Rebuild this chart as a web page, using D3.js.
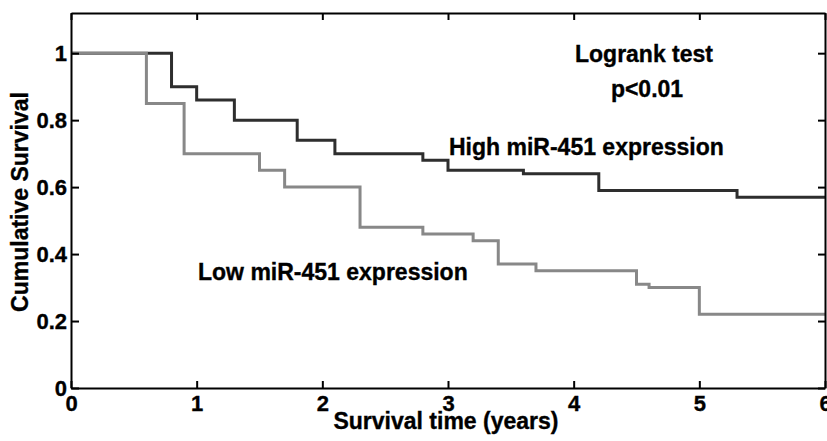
<!DOCTYPE html>
<html>
<head>
<meta charset="utf-8">
<script src="https://cdn.jsdelivr.net/npm/d3@7"></script>
<style>
  body { margin: 0; background: #fff; }
  text { font-family: "Liberation Sans", Arial, sans-serif; font-weight: bold; stroke: #000; stroke-width: 0.35px; }
</style>
</head>
<body>
<svg id="chart" width="827" height="441"></svg>
<script>
// Kaplan-Meier steps
const highTimes = [0, 0.8, 1.0, 1.3, 1.8, 2.1, 2.8, 3.0, 3.6, 4.2, 5.3, 6];
const highSurv  = [1, 0.9, 0.86, 0.8, 0.74, 0.70, 0.68, 0.65, 0.64, 0.59, 0.57, 0.57];
const lowTimes  = [0, 0.6, 0.9, 1.5, 1.7, 2.3, 2.8, 3.2, 3.4, 3.7, 4.5, 4.6, 5.0, 6];
const lowSurv   = [1, 0.85, 0.70, 0.65, 0.60, 0.48, 0.46, 0.44, 0.37, 0.35, 0.31, 0.30, 0.22, 0.22];
const xTicks = [0, 1, 2, 3, 4, 5, 6];
const yTicks = [0, 0.2, 0.4, 0.6, 0.8, 1];

const svg = d3.select("#chart");
const margin = { left: 71, right: 2, top: 13, bottom: 53 };
const W = 827, H = 441;

const x = d3.scaleLinear().domain([0, 6]).range([margin.left, W - margin.right]);
const y = d3.scaleLinear().domain([0, 1.12]).range([H - margin.bottom, margin.top]);

const line = d3.line()
  .x(d => x(d[0]))
  .y(d => y(d[1]))
  .curve(d3.curveStepAfter);

const high = highTimes.map((t, i) => [t, highSurv[i]]);
const low = lowTimes.map((t, i) => [t, lowSurv[i]]);

// curves (grey drawn over dark)
svg.append("path").datum(high)
  .attr("d", line).attr("fill", "none")
  .attr("stroke", "#2e2e2e").attr("stroke-width", 3);
svg.append("path").datum(low)
  .attr("d", line).attr("fill", "none")
  .attr("stroke", "#888").attr("stroke-width", 3);

const fmt = d3.format("~g");
const styleAxis = g => {
  g.selectAll(".domain").attr("stroke", "#000").attr("stroke-width", 2);
  g.selectAll(".tick line").attr("stroke", "#000").attr("stroke-width", 2);
  g.selectAll("text").attr("fill", "#000").style("font-size", "22px")
    .style("font-family", "'Liberation Sans', Arial, sans-serif").style("font-weight", "bold");
};

svg.append("g")
  .attr("transform", `translate(0,${y(0)})`)
  .call(d3.axisBottom(x).tickValues(xTicks).tickFormat(fmt).tickSize(-7).tickSizeOuter(0).tickPadding(7))
  .call(styleAxis);

svg.append("g")
  .attr("transform", `translate(${x(0)},0)`)
  .call(d3.axisLeft(y).tickValues(yTicks).tickFormat(fmt).tickSize(-8).tickSizeOuter(0).tickPadding(4))
  .call(styleAxis);

svg.append("g")
  .attr("transform", `translate(0,${y.range()[1]})`)
  .call(d3.axisTop(x).tickValues(xTicks).tickFormat("").tickSize(-7).tickSizeOuter(0))
  .call(styleAxis);

svg.append("g")
  .attr("transform", `translate(${x(6)},0)`)
  .call(d3.axisRight(y).tickValues(yTicks).tickFormat("").tickSize(-7).tickSizeOuter(0))
  .call(styleAxis);

// axis titles
svg.append("text")
  .attr("x", 446).attr("y", 429)
  .attr("text-anchor", "middle")
  .style("font-size", "23px")
  .text("Survival time (years)");

svg.append("text")
  .attr("transform", "translate(28,202) rotate(-90)")
  .attr("text-anchor", "middle")
  .style("font-size", "23px")
  .text("Cumulative Survival");

// annotations
svg.append("text").attr("x", 644).attr("y", 62)
  .attr("text-anchor", "middle").style("font-size", "23px")
  .text("Logrank test");
svg.append("text").attr("x", 647).attr("y", 97)
  .attr("text-anchor", "middle").style("font-size", "23px")
  .text("p<0.01");
svg.append("text").attr("x", 449).attr("y", 155)
  .style("font-size", "23px")
  .text("High miR-451 expression");
svg.append("text").attr("x", 198).attr("y", 280)
  .style("font-size", "23px")
  .text("Low miR-451 expression");
</script>
</body>
</html>
